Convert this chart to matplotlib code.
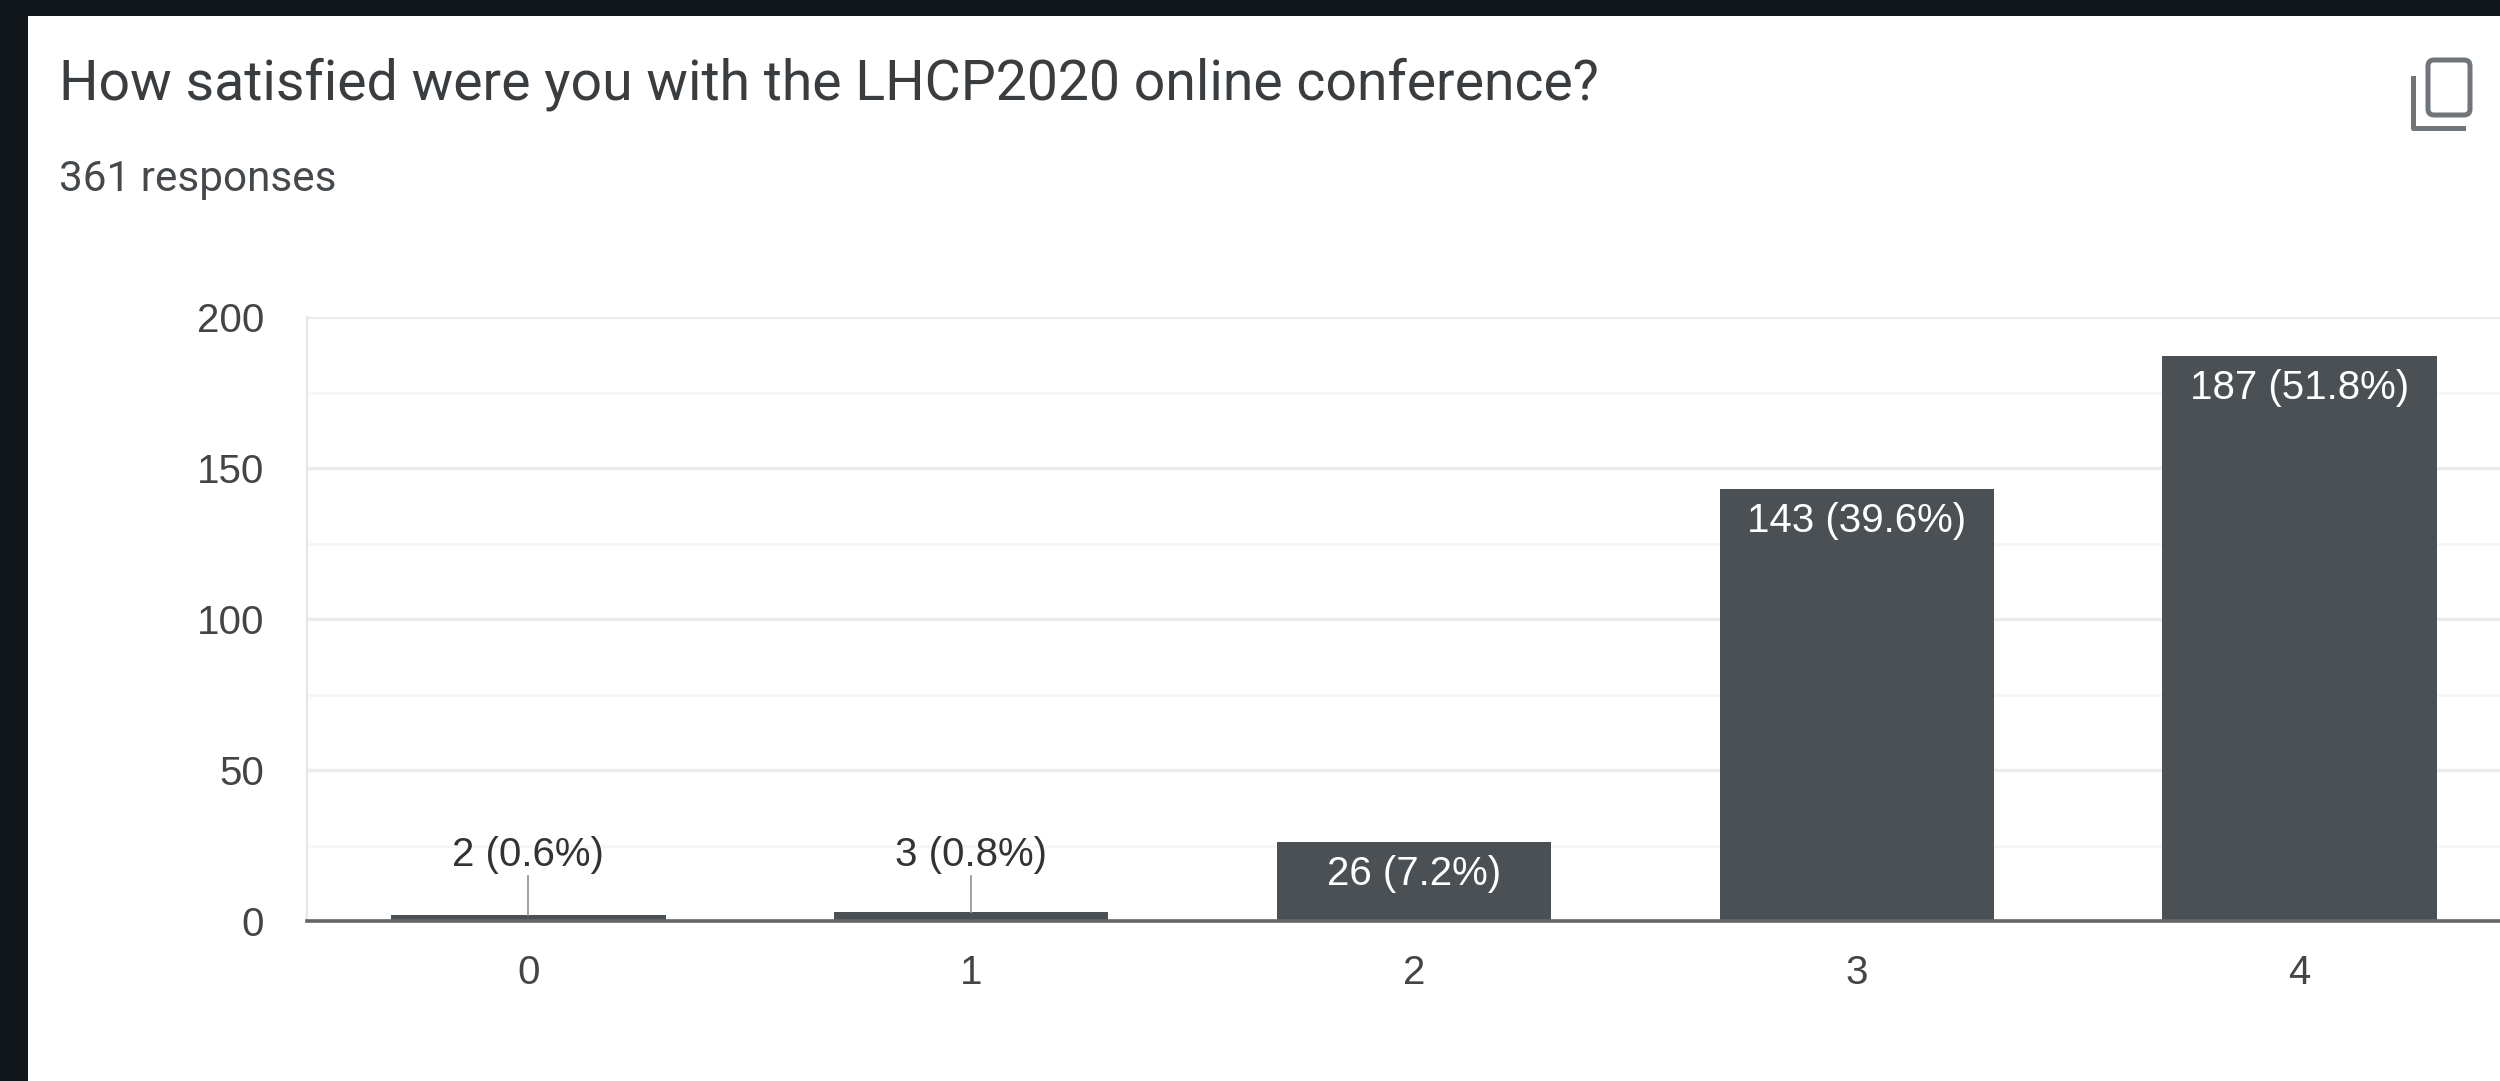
import numpy as np
from matplotlib import pyplot as plt
from matplotlib.patches import FancyBboxPatch

# Data
categories = ['0', '1', '2', '3', '4']
counts = [2, 3, 26, 143, 187]
percents = [0.6, 0.8, 7.2, 39.6, 51.8]
y_ticks = [0, 50, 100, 150, 200]
y_minor = [25, 75, 125, 175]
title = 'How satisfied were you with the LHCP2020 online conference?'
subtitle = '361 responses'

W, H = 2500, 1081
DARK = '#101619'
BAR = '#4b5054'
LEADER_TOP = 15
LABEL_SIZE = 29

fig = plt.figure(figsize=(W / 100, H / 100), dpi=100, facecolor=DARK)

# Overlay in pixels for the white card, the header and the copy icon
bg = fig.add_axes([0, 0, 1, 1])
bg.set_xlim(0, W)
bg.set_ylim(H, 0)
bg.axis('off')
bg.add_patch(plt.Rectangle((28, 16), W - 28, H - 16, color='white', lw=0))
bg.text(59, 84, title, family='Roboto', fontsize=39.9, color='#3a3d40', va='center', ha='left')
bg.text(59, 180, subtitle, family='Roboto', fontsize=30.4, color='#46494c', va='center', ha='left')
bg.add_patch(FancyBboxPatch((2428, 60), 42, 55, boxstyle='round,pad=0,rounding_size=6',
                            fc='none', ec='#70757a', lw=3.6))
bg.plot([2413, 2413, 2463], [78, 128, 128], color='#70757a', lw=3.6, solid_joinstyle='round')

# Chart axes run past the right edge, same as the screenshot crop
x0, x1 = 307, 2521
y_top, y_base = 317, 921
ax = fig.add_axes([x0 / W, 1 - y_base / H, (x1 - x0) / W, (y_base - y_top) / H])
ax.patch.set_alpha(0)
x = np.arange(len(categories))
ax.set_xlim(-0.5, 4.5)
ax.set_ylim(0, 200)

ax.set_yticks(y_ticks)
ax.set_yticks(y_minor, minor=True)
ax.grid(axis='y', which='major', color='#ececec', lw=2.4)
ax.grid(axis='y', which='minor', color='#f6f6f6', lw=2.2)
ax.set_axisbelow(True)

ax.bar(x, counts, width=0.62, color=BAR, zorder=3)

for s in ['top', 'right']:
    ax.spines[s].set_visible(False)
ax.spines['left'].set_color('#e6e6e6')
ax.spines['left'].set_linewidth(1.6)
ax.spines['bottom'].set_color('#63676a')
ax.spines['bottom'].set_linewidth(2.6)
ax.spines['bottom'].set_zorder(4)

ax.set_xticks(x, categories)
ax.tick_params(axis='both', which='both', length=0)
ax.tick_params(axis='x', pad=23.5, labelsize=LABEL_SIZE, labelcolor='#444444')
ax.tick_params(axis='y', pad=31, labelsize=LABEL_SIZE, labelcolor='#444444')
for lab in ax.get_xticklabels() + ax.get_yticklabels():
    lab.set_family('Liberation Sans')
for lab in ax.get_yticklabels():
    lab.set_verticalalignment('center')
    lab.set_transform(lab.get_transform() + plt.matplotlib.transforms.Affine2D().translate(0, -4))

# Small bars get the label above a leader line, the rest inside the bar
for xi, c, p in zip(x, counts, percents):
    label = f'{c} ({p}%)'
    if c < 10:
        ax.plot([xi, xi], [c, LEADER_TOP], color='#9a9a9a', lw=1.3, zorder=4)
        ax.annotate(label, (xi, LEADER_TOP), xytext=(0, 1), textcoords='offset points',
                    ha='center', va='bottom', family='Liberation Sans', fontsize=LABEL_SIZE,
                    color='#333333', zorder=5)
    else:
        ax.annotate(label, (xi, c), xytext=(0, -23), textcoords='offset points',
                    ha='center', va='center', family='Liberation Sans', fontsize=LABEL_SIZE,
                    color='white', zorder=5)

fig.savefig('out.png', dpi=100, facecolor=DARK)
